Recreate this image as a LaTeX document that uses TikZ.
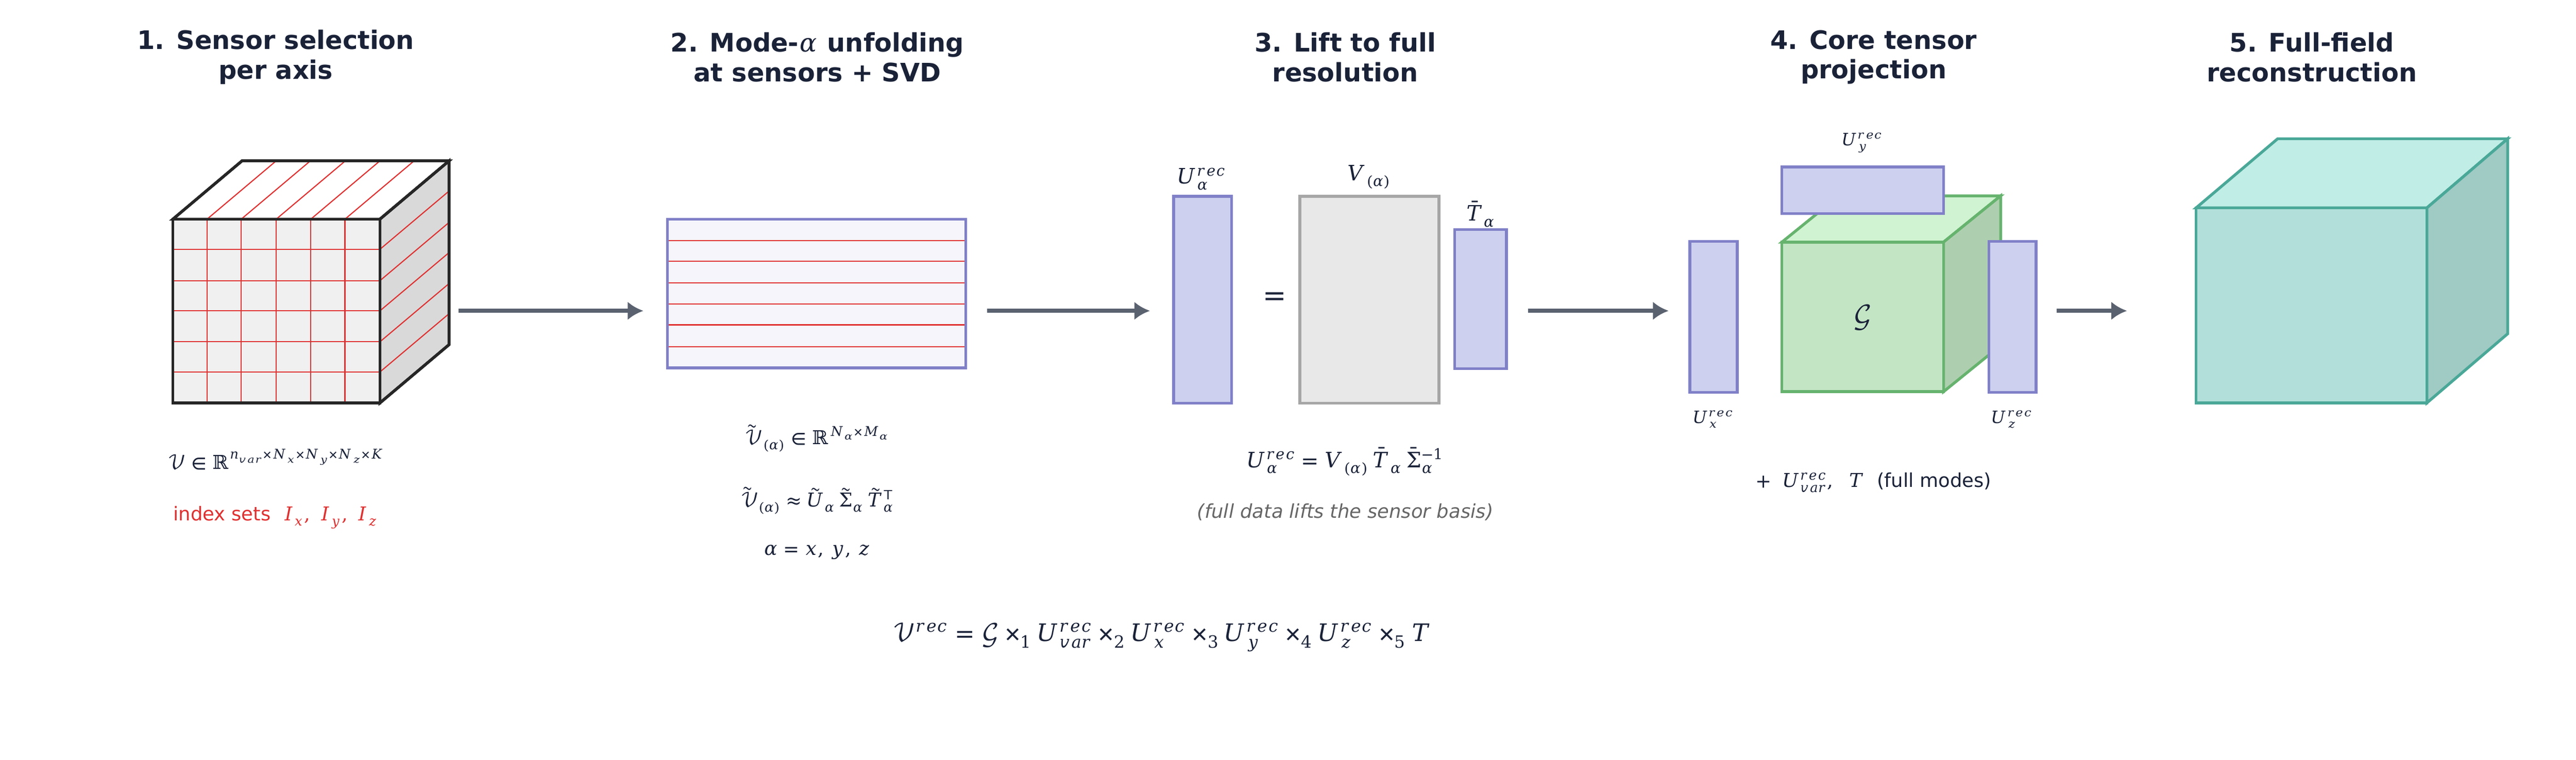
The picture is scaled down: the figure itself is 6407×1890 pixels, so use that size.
\documentclass[tikz,border=0pt]{standalone}
\usepackage{amsmath}
\usepackage{fontspec}
\usepackage{unicode-math}
\setmainfont{DejaVu Sans}
\setmathfont{DejaVu Math TeX Gyre}
\usetikzlibrary{arrows.meta}
\definecolor{txt}{HTML}{1A2238}
\definecolor{arrc}{HTML}{5A6270}
\definecolor{matb}{HTML}{8080C8}
\definecolor{matf}{HTML}{CDD0EE}
\definecolor{redc}{HTML}{E03030}
\definecolor{grayt}{HTML}{666666}
\definecolor{gbd}{HTML}{66B36E}
\definecolor{gside}{HTML}{AECFAF}
\definecolor{gfront}{HTML}{C3E5C4}
\definecolor{gtop}{HTML}{D0F3D1}
\definecolor{tbd}{HTML}{4AA898}
\definecolor{tfront}{HTML}{B2DFDA}
\definecolor{ttop}{HTML}{C0EDE6}
\definecolor{tside}{HTML}{A0CAC4}
\begin{document}
\begin{tikzpicture}[x=0.01cm,y=-0.01cm,
  ttl/.style={font=\fontsize{18}{21}\selectfont\bfseries,text=txt,align=center},
  lbl/.style={font=\fontsize{13.5}{16}\selectfont,text=txt},
  arr/.style={line width=3pt,draw=arrc,-{Latex[length=11pt,width=13pt]}},
  mat/.style={draw=matb,fill=matf,line width=2pt},
  redl/.style={draw=redc,line width=0.8pt}]
\useasboundingbox (0,0) rectangle (6407,1890);
% titles
\node[ttl] (t1) at (686,142) {1. Sensor selection\\per axis};
\node[ttl] (t2) at (2033,142) {2. Mode-$\alpha$ unfolding\\at sensors + SVD};
\node[ttl] (t3) at (3346,142) {3. Lift to full\\resolution};
\node[ttl] (t4) at (4660,142) {4. Core tensor\\projection};
\node[ttl] (t5) at (5750,142) {5. Full-field\\reconstruction};
% cube 1
\draw[fill=white,draw=black!85,line width=2pt] (430,545) -- (602,400) -- (1117,400) -- (945,545) -- cycle;
\draw[fill=black!15,draw=black!85,line width=2pt] (945,545) -- (1117,400) -- (1117,857) -- (945,1002) -- cycle;
\draw[fill=black!6] (430,545) rectangle (945,1002);
\foreach \x in {515,600,687,773,858} {\draw[redl] (\x,545) -- (\x,1002); \draw[redl] (\x,545) -- ++(172,-145);}
\foreach \y in {620,698,773,850,925} {\draw[redl] (430,\y) -- (945,\y); \draw[redl] (945,\y) -- ++(172,-145);}
\draw[draw=black!85,line width=2pt] (430,545) rectangle (945,1002);
\draw[draw=black!85,line width=2pt] (430,545) -- (602,400) -- (1117,400) -- (1117,857) -- (945,1002) (945,545) -- (1117,400);
\coordinate (c1) at (1140,773);
\node[lbl] (f1a) at (686,1143) {$\mathcal{V}\in\mathbb{R}^{n_{var}\times N_x\times N_y\times N_z\times K}$};
\node[lbl,text=redc] (f1b) at (686,1287) {index sets\ \ $I_x,\ I_y,\ I_z$};
% matrix 2
\draw[draw=matb,fill=matb!8,line width=2pt] (1660,545) rectangle (2402,915);
\foreach \y in {598,650,703,756,808,862} \draw[redl] (1660,\y) -- (2402,\y);
\draw[draw=matb,line width=2pt] (1660,545) rectangle (2402,915);
\coordinate (c2a) at (1600,773);
\coordinate (c2b) at (2455,773);
\node[lbl] (f2a) at (2033,1090) {$\tilde{\mathcal{V}}_{(\alpha)}\in\mathbb{R}^{N_\alpha\times M_\alpha}$};
\node[lbl] (f2b) at (2033,1245) {$\tilde{\mathcal{V}}_{(\alpha)}\approx\tilde U_\alpha\,\tilde\Sigma_\alpha\,\tilde T_\alpha^{\mathsf T}$};
\node[lbl] (f2c) at (2033,1373) {$\alpha = x,\,y,\,z$};
% stage 3
\draw[mat] (2919,488) rectangle (3063,1003);
\draw[draw=black!35,fill=black!9,line width=2pt] (3233,488) rectangle (3579,1003);
\draw[mat] (3618,571) rectangle (3747,917);
\node[lbl,font=\fontsize{20}{24}\selectfont] (eq) at (3170,742) {$=$};
\node[lbl,font=\fontsize{15}{18}\selectfont] (l3a) at (2990,445) {$U_\alpha^{rec}$};
\node[lbl,font=\fontsize{15}{18}\selectfont] (l3b) at (3405,440) {$V_{(\alpha)}$};
\node[lbl,font=\fontsize{15}{18}\selectfont] (l3c) at (3683,532) {$\bar T_\alpha$};
\coordinate (c3a) at (2860,773);
\coordinate (c3b) at (3800,773);
\node[lbl,font=\fontsize{15}{18}\selectfont] (f3a) at (3346,1148) {$U_\alpha^{rec}=V_{(\alpha)}\,\bar T_\alpha\,\bar\Sigma_\alpha^{-1}$};
\node[lbl,text=grayt] (f3b) at (3346,1273) {\itshape (full data lifts the sensor basis)};
% stage 4
\draw[draw=gbd,fill=gtop,line width=2pt] (4432,602) -- (4574,487) -- (4976,487) -- (4834,602) -- cycle;
\draw[draw=gbd,fill=gside,line width=2pt] (4834,602) -- (4976,487) -- (4976,859) -- (4834,974) -- cycle;
\draw[draw=gbd,fill=gfront,line width=2pt] (4432,602) rectangle (4834,974);
\draw[mat] (4432,415) rectangle (4834,531);
\draw[mat] (4203,600) rectangle (4321,976);
\draw[mat] (4947,600) rectangle (5064,976);
\node[lbl,font=\fontsize{18}{20}\selectfont] (G) at (4633,790) {$\mathcal{G}$};
\node[lbl,font=\fontsize{12}{14}\selectfont] (l4y) at (4633,355) {$U_y^{rec}$};
\node[lbl,font=\fontsize{12}{14}\selectfont] (l4x) at (4262,1043) {$U_x^{rec}$};
\node[lbl,font=\fontsize{12}{14}\selectfont] (l4z) at (5005,1043) {$U_z^{rec}$};
\node[lbl] (f4) at (4660,1200) {$+\ \ U_{var}^{rec},\ \ T$\ \ (full modes)};
\coordinate (c4a) at (4150,773);
\coordinate (c4b) at (5115,773);
% stage 5
\draw[draw=tbd,fill=ttop,line width=2pt] (5462,517) -- (5665,345) -- (6237,345) -- (6036,517) -- cycle;
\draw[draw=tbd,fill=tside,line width=2pt] (6036,517) -- (6237,345) -- (6237,830) -- (6036,1002) -- cycle;
\draw[draw=tbd,fill=tfront,line width=2pt] (5462,517) rectangle (6036,1002);
\coordinate (c5) at (5290,773);
% arrows
\draw[arr] (c1) -- (c2a);
\draw[arr] (c2b) -- (c3a);
\draw[arr] (c3b) -- (c4a);
\draw[arr] (c4b) -- (c5);
% bottom formula
\node[lbl,font=\fontsize{17}{20}\selectfont] (fb) at (2890,1585) {$\mathcal{V}^{rec}=\mathcal{G}\times_1 U_{var}^{rec}\times_2 U_x^{rec}\times_3 U_y^{rec}\times_4 U_z^{rec}\times_5 T$};
\end{tikzpicture}
\end{document}
